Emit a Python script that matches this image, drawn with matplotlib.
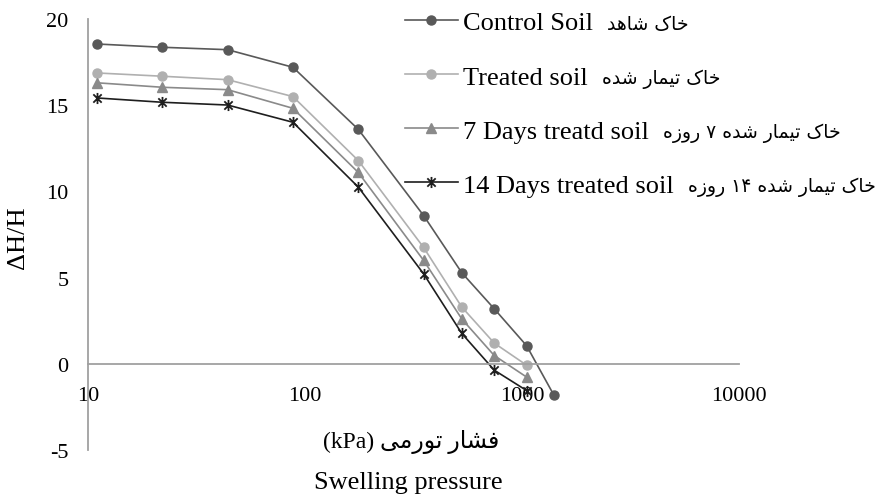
import matplotlib
matplotlib.use("Agg")
import matplotlib.pyplot as plt
from matplotlib.path import Path

plt.rcParams['font.family'] = ['Liberation Serif', 'DejaVu Sans']

# --- data ---
pressure = [11, 22, 44, 88, 176, 352, 528, 745, 1050, 1400]
control_soil = [18.55, 18.36, 18.22, 17.2, 13.6, 8.6, 5.28, 3.19, 1.05, -1.8]
treated_soil = [16.87, 16.68, 16.48, 15.5, 11.79, 6.75, 3.29, 1.2, -0.08]
days7_soil = [16.3, 16.04, 15.9, 14.82, 11.1, 6.0, 2.6, 0.48, -0.77]
days14_soil = [15.42, 15.17, 15.01, 14.01, 10.25, 5.22, 1.76, -0.37, -1.55]

labels_en = ['Control Soil', 'Treated soil', '7 Days treatd soil', '14 Days treated soil']
labels_fa = ['خاک شاهد', 'خاک تیمار شده', 'خاک تیمار شده ۷ روزه', 'خاک تیمار شده ۱۴ روزه']
x_ticks = [10, 100, 1000, 10000]
y_ticks = [-5, 0, 5, 10, 15, 20]

# --- minimal Persian shaping (matplotlib has no Arabic shaping / bidi) ---
FORMS = {
    'ا': ('\uFE8D', '\uFE8E', None, None),
    'د': ('\uFEA9', '\uFEAA', None, None),
    'ر': ('\uFEAD', '\uFEAE', None, None),
    'ز': ('\uFEAF', '\uFEB0', None, None),
    'و': ('\uFEED', '\uFEEE', None, None),
    'خ': ('\uFEA5', '\uFEA6', '\uFEA7', '\uFEA8'),
    'ک': ('\uFB8E', '\uFB8F', '\uFB90', '\uFB91'),
    'ش': ('\uFEB5', '\uFEB6', '\uFEB7', '\uFEB8'),
    'ه': ('\uFEE9', '\uFEEA', '\uFEEB', '\uFEEC'),
    'ت': ('\uFE95', '\uFE96', '\uFE97', '\uFE98'),
    'ی': ('\uFBFC', '\uFBFD', '\uFBFE', '\uFBFF'),
    'م': ('\uFEE1', '\uFEE2', '\uFEE3', '\uFEE4'),
    'ف': ('\uFED1', '\uFED2', '\uFED3', '\uFED4'),
}


def shape_word(w):
    if not any(c in FORMS for c in w):
        return w
    out = []
    for i, c in enumerate(w):
        if c not in FORMS:
            out.append(c)
            continue
        iso, fin, ini, med = FORMS[c]
        prev = w[i - 1] if i > 0 else None
        nxt = w[i + 1] if i + 1 < len(w) else None
        from_prev = prev in FORMS and FORMS[prev][2] is not None
        to_next = ini is not None and nxt in FORMS
        if from_prev and to_next:
            out.append(med)
        elif from_prev:
            out.append(fin)
        elif to_next:
            out.append(ini)
        else:
            out.append(iso)
    return ''.join(reversed(out))


def persian(s):
    return ' '.join(shape_word(w) for w in reversed(s.split(' ')))


# --- figure ---
W, H = 890, 502
fig = plt.figure(figsize=(W / 100, H / 100), dpi=100)
ax = fig.add_axes([88 / W, 51 / H, 651 / W, 431 / H])

star = Path([(0, -1), (0, 1), (-0.75, -0.75), (0.75, 0.75), (-0.75, 0.75), (0.75, -0.75)],
            [Path.MOVETO, Path.LINETO] * 3)

ax.plot(pressure, control_soil, color='#595959', lw=1.2, marker='o', ms=6.5, label=labels_en[0])
ax.plot(pressure[:len(treated_soil)], treated_soil, color='#B0B0B0', lw=1.2, marker='o', ms=6.5,
        label=labels_en[1])
ax.plot(pressure[:len(days7_soil)], days7_soil, color='#8A8A8A', lw=1.2, marker='^', ms=7.5,
        label=labels_en[2])
ax.plot(pressure[:len(days14_soil)], days14_soil, color='#1E1E1E', lw=1.2, marker=star, ms=8,
        mew=1.3, label=labels_en[3])

ax.set_xscale('log')
ax.set_xlim(10, 10000)
ax.set_ylim(-5, 20)
ax.set_xticks(x_ticks)
ax.set_xticklabels([str(v) for v in x_ticks])
ax.xaxis.set_minor_locator(plt.NullLocator())
ax.set_yticks(y_ticks)
ax.set_yticklabels([str(v) for v in y_ticks])
ax.tick_params(axis='x', length=0, pad=16, labelsize=16)
ax.tick_params(axis='y', length=0, pad=14, labelsize=16)

for s in ['top', 'right']:
    ax.spines[s].set_visible(False)
ax.spines['bottom'].set_position(('data', 0))
for s in ['bottom', 'left']:
    ax.spines[s].set_color('#A0A0A0')
    ax.spines[s].set_linewidth(1.3)

fig.text(18 / W, 1 - 238 / H, 'ΔH/H', rotation=90, ha='center', va='center', fontsize=19)
fig.text(411 / W, 1 - 442 / H, '(kPa) ' + persian('فشار تورمی'), ha='center', va='center',
         fontsize=17)
fig.text(408 / W, 1 - 483 / H, 'Swelling pressure', ha='center', va='center', fontsize=19)

leg = fig.legend(loc='upper left', bbox_to_anchor=(405 / W, 1 - 12 / H), frameon=False,
                 fontsize=19, handlelength=2.0, handletextpad=0.2, labelspacing=1.16,
                 borderpad=0, borderaxespad=0)

fig.canvas.draw()
renderer = fig.canvas.get_renderer()
for t, fa in zip(leg.get_texts(), labels_fa):
    bb = t.get_window_extent(renderer)
    fig.text((bb.x1 + 14) / W, (bb.y0 + 0.24 * bb.height) / H, persian(fa),
             ha='left', va='baseline', fontsize=13.5, family='DejaVu Sans')

fig.savefig('out.png', dpi=100)
